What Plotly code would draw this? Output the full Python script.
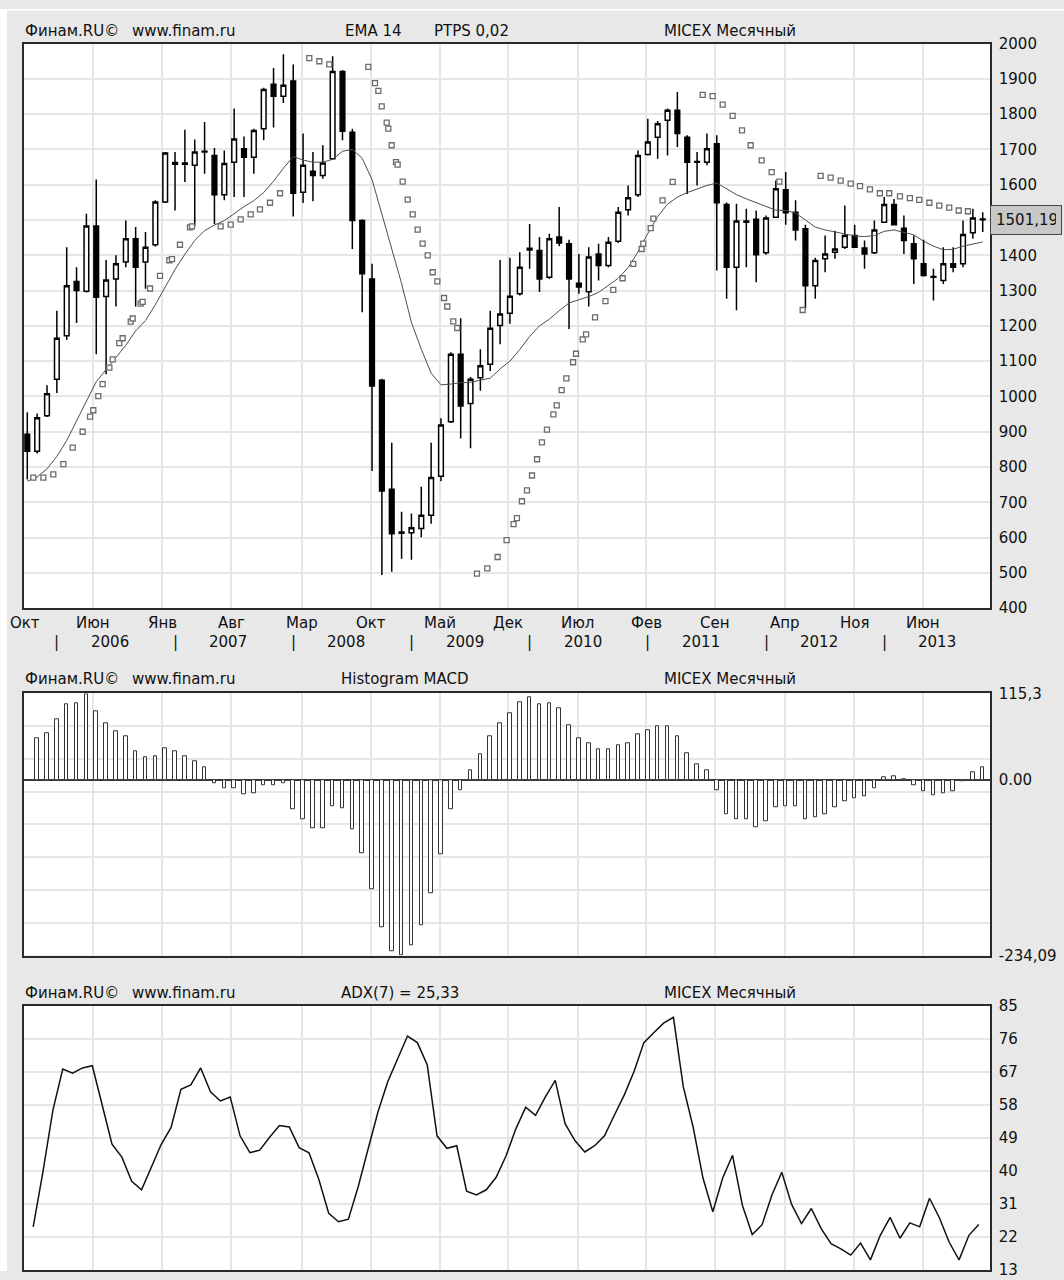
import plotly.graph_objects as go

W, H = 1064, 1280
FONT = "DejaVu Sans"
TXT = "#111111"
GRID = "#e6e6e6"
BORDER = "#2a2a2a"
BG = "#e8e8e8"

# ---------------- data (monthly MICEX, Oct 2005 .. Nov 2013) ----------------
open_ = [893, 845, 945, 1049, 1172, 1326, 1298, 1483, 1283, 1333,
         1381, 1447, 1381, 1430, 1551, 1663, 1658, 1655, 1693, 1683,
         1572, 1664, 1702, 1678, 1759, 1885, 1851, 1894, 1579, 1638,
         1626, 1674, 1921, 1749, 1499, 1333, 1046, 737, 616, 614,
         626, 663, 774, 928, 1120, 980, 1053, 1091, 1201, 1236,
         1291, 1415, 1414, 1338, 1452, 1433, 1321, 1297, 1404, 1371,
         1440, 1529, 1572, 1686, 1735, 1783, 1811, 1735, 1664, 1664,
         1716, 1544, 1366, 1494, 1502, 1407, 1508, 1586, 1522, 1475,
         1314, 1390, 1409, 1423, 1456, 1421, 1407, 1494, 1544, 1477,
         1433, 1376, 1340, 1329, 1376, 1376, 1464, 1503]
high_ = [955, 952, 1032, 1243, 1423, 1366, 1518, 1615, 1387, 1400,
         1499, 1480, 1466, 1556, 1693, 1693, 1756, 1728, 1778, 1704,
         1697, 1816, 1737, 1759, 1875, 1931, 1970, 1941, 1745, 1693,
         1712, 1964, 1925, 1759, 1502, 1376, 1050, 869, 673, 668,
         744, 869, 938, 1125, 1222, 1055, 1134, 1243, 1387, 1393,
         1409, 1489, 1452, 1461, 1537, 1444, 1404, 1423, 1433, 1452,
         1537, 1598, 1697, 1787, 1781, 1816, 1863, 1740, 1693, 1745,
         1740, 1550, 1546, 1532, 1527, 1513, 1612, 1636, 1556, 1487,
         1393, 1456, 1470, 1541, 1487, 1442, 1499, 1565, 1560, 1513,
         1456, 1444, 1362, 1423, 1423, 1499, 1532, 1522]
low_ = [765, 838, 942, 1010, 1160, 1208, 1295, 1120, 1063, 1255,
        1366, 1255, 1305, 1425, 1548, 1527, 1608, 1483, 1631, 1489,
        1556, 1565, 1565, 1631, 1726, 1762, 1832, 1510, 1548, 1553,
        1617, 1671, 1726, 1418, 1239, 789, 494, 503, 540, 537,
        601, 639, 760, 925, 881, 853, 1016, 1072, 1148, 1206,
        1286, 1362, 1296, 1333, 1426, 1191, 1291, 1255, 1329, 1366,
        1435, 1513, 1565, 1683, 1674, 1683, 1707, 1574, 1598, 1655,
        1357, 1277, 1244, 1366, 1324, 1402, 1506, 1487, 1442, 1248,
        1277, 1352, 1390, 1418, 1421, 1362, 1404, 1492, 1485, 1404,
        1319, 1340, 1272, 1319, 1352, 1366, 1447, 1466]
close_ = [845, 940, 1008, 1165, 1314, 1300, 1483, 1281, 1330, 1376,
          1447, 1366, 1423, 1551, 1690, 1658, 1662, 1693, 1695, 1572,
          1660, 1730, 1678, 1754, 1870, 1851, 1882, 1576, 1655, 1626,
          1662, 1921, 1752, 1499, 1348, 1030, 732, 611, 612, 628,
          663, 770, 919, 1120, 973, 1049, 1087, 1193, 1234, 1284,
          1366, 1420, 1333, 1447, 1435, 1333, 1310, 1395, 1371, 1437,
          1522, 1563, 1683, 1721, 1773, 1811, 1745, 1664, 1666, 1702,
          1549, 1366, 1497, 1497, 1402, 1506, 1589, 1521, 1472, 1314,
          1385, 1404, 1418, 1456, 1423, 1404, 1472, 1544, 1487, 1442,
          1390, 1343, 1338, 1376, 1366, 1459, 1506, 1501.19]
ema14 = [760, 772, 795, 830, 875, 930, 985, 1042, 1076, 1110,
         1145, 1186, 1215, 1260, 1310, 1360, 1403, 1442, 1470, 1486,
         1498, 1518, 1538, 1555, 1578, 1610, 1647, 1680, 1670, 1664,
         1664, 1672, 1695, 1700, 1675, 1615, 1518, 1420, 1320, 1210,
         1134, 1066, 1033, 1035, 1039, 1040, 1045, 1052, 1078, 1100,
         1133, 1170, 1200, 1219, 1243, 1265, 1274, 1283, 1295, 1315,
         1335, 1365, 1410, 1462, 1510, 1545, 1565, 1578, 1588, 1598,
         1605, 1588, 1572, 1560, 1550, 1538, 1528, 1527, 1520, 1500,
         1480, 1472, 1467, 1462, 1455, 1453, 1456, 1468, 1472, 1465,
         1458, 1440, 1426, 1416, 1417, 1426, 1432, 1438]
# Parabolic SAR dots as drawn (position in bar units, value)
psar_x = [0.61, 1.63, 2.64, 3.66, 4.61, 5.62, 6.37, 6.7, 7.21, 7.65, 8.33, 8.67, 9.34, 9.68,
          10.5, 10.7, 11.51, 11.71, 12.46, 13.47, 14.42, 14.69, 15.5, 16.52, 16.72,
          19.63, 20.65, 21.66, 22.68, 23.62, 24.64, 25.66,
          28.63, 29.65, 30.66,
          34.62, 35.3, 35.64, 35.98, 36.49, 36.65, 36.99, 37.43, 37.6, 38.11, 38.62, 39.13,
          39.63, 40.14, 40.65, 41.16, 41.63, 42.31, 42.64, 43.25, 43.65,
          45.65, 46.7, 47.75, 48.66, 49.37, 49.71, 50.22, 50.73, 51.24, 51.75, 52.25, 52.76,
          53.41, 53.75, 54.25, 54.73, 55.41, 55.71, 56.39, 56.73, 57.64, 58.7, 59.49, 60.44,
          61.52, 62.37, 62.54, 63.29, 63.56, 64.5, 65.52,
          68.57, 69.58, 70.6, 71.61, 72.56, 73.44, 74.56, 75.57, 76.35,
          78.72,
          80.55, 81.56, 82.58, 83.59, 84.54, 85.55, 86.56, 87.51, 88.6, 89.61, 90.56, 91.58,
          92.59, 93.6, 94.56, 95.5]
psar_y = [770, 770, 779, 808, 855, 900, 943, 961, 1001, 1035, 1082, 1105, 1151, 1165,
          1212, 1221, 1263, 1268, 1306, 1342, 1386, 1389, 1430, 1479, 1482,
          1482, 1487, 1502, 1516, 1530, 1549, 1576,
          1959, 1950, 1941,
          1934, 1888, 1866, 1822, 1776, 1759, 1712, 1664, 1657, 1609, 1558, 1516,
          1473, 1433, 1400, 1352, 1326, 1279, 1255, 1213, 1194,
          498, 513, 545, 593, 638, 655, 703, 734, 776, 822, 870, 906,
          949, 975, 1018, 1051, 1097, 1121, 1162, 1176, 1224, 1270, 1302, 1335,
          1376, 1418, 1433, 1477, 1504, 1556, 1608,
          1855, 1851, 1827, 1795, 1754, 1712, 1669, 1636, 1609,
          1245,
          1625, 1620, 1612, 1603, 1596, 1587, 1576, 1576, 1567, 1562, 1557, 1549,
          1541, 1535, 1527, 1525]
macd_hist = [None, 55.5, 62.6, 80.1, 100.2, 102.5, 114.1, 91.3, 75.6, 64.9,
             58.2, 38.5, 29.5, 31.8, 42.5, 38.5, 31.3, 25.1, 16.1, -4.5,
             -11.6, -11.6, -19.7, -17.9, -7.2, -7.2, -4.5, -39.4, -52.8, -64.0,
             -64.0, -35.8, -38.0, -65.3, -97.5, -145.9, -196.0, -228.2, -234.09, -220.6,
             -193.7, -151.2, -98.9, -39.4, -13.4, 12.1, 34.5, 58.2, 75.6, 89.0,
             102.9, 110.3, 100.0, 102.2, 95.5, 73.2, 55.4, 49.1, 40.2, 40.2,
             45.5, 49.1, 60.3, 66.5, 71.4, 71.4, 58.0, 35.7, 20.5, 12.1,
             -13.4, -46.0, -52.7, -52.7, -62.9, -54.9, -37.1, -35.7, -35.7, -52.7,
             -50.4, -46.0, -37.1, -28.1, -24.6, -22.3, -11.2, 3.1, 4.5, 0.3,
             -6.7, -15.6, -20.1, -17.9, -15.6, -1.8, 9.8, 16.1]
adx7 = [None, 24.7, 39.9, 56.5, 67.7, 66.6, 68.0, 68.6, 58.3, 47.2,
        43.7, 37.1, 34.8, 40.8, 47.2, 51.8, 62.2, 63.4, 68.0, 61.5,
        59.0, 60.1, 49.5, 44.9, 45.6, 49.1, 52.3, 51.9, 46.3, 44.9,
        37.6, 28.4, 26.1, 26.8, 35.7, 45.9, 56.0, 64.3, 70.7, 76.7,
        74.9, 68.9, 49.5, 46.1, 46.8, 34.4, 33.4, 34.8, 38.2, 44.0,
        51.4, 57.3, 55.1, 60.1, 64.6, 52.8, 48.2, 45.1, 46.8, 49.5,
        55.1, 60.6, 67.0, 74.9, 77.6, 80.2, 81.8, 62.9, 51.9, 38.0,
        28.8, 38.0, 44.2, 30.6, 22.6, 25.3, 33.4, 39.6, 30.8, 25.6,
        29.7, 24.2, 20.1, 18.7, 17.0, 20.3, 15.7, 22.4, 27.3, 21.6,
        25.8, 24.7, 32.5, 27.2, 20.5, 15.7, 22.4, 25.33]

grid_pos = [6.65, 13.68, 20.7, 27.85, 34.87, 41.85, 48.85, 55.86, 62.83, 69.83, 76.95, 83.95, 90.9]
grid_labels = ["Июн", "Янв", "Авг", "Мар", "Окт", "Май", "Дек", "Июл", "Фев", "Сен", "Апр", "Ноя", "Июн"]
first_label = "Окт"
year_pos = [3, 15, 27, 39, 51, 63, 75, 87]
year_labels = ["2006", "2007", "2008", "2009", "2010", "2011", "2012", "2013"]
price_ticks = list(range(400, 2001, 100))
macd_min, macd_max = -234.09, 115.3
macd_label_vals = [115.3, 0.0, -234.09]
macd_label_text = ["115,3", "0.00", "-234,09"]
adx_ticks = [13, 22, 31, 40, 49, 58, 67, 76, 85]

idx = list(range(len(close_)))
ADX_SHIFT = -0.4

# the photographed page maps figure rows as  y_photo = 0.985*y_fig + 8.4  (measured);
# place everything by its target position in the photo.
V_SCALE, V_OFF = 0.985, 8.4


def px(xp):
    return xp / W


def py(yp):
    return 1 - ((yp - V_OFF) / V_SCALE) / H


fig = go.Figure()
fig.add_trace(go.Candlestick(
    x=idx, open=open_, high=high_, low=low_, close=close_,
    increasing=dict(line=dict(color="#000000", width=1.5), fillcolor="#ffffff"),
    decreasing=dict(line=dict(color="#000000", width=1.5), fillcolor="#000000"),
    whiskerwidth=0, xaxis="x", yaxis="y", showlegend=False, hoverinfo="skip"))
fig.add_trace(go.Scatter(x=idx, y=ema14, mode="lines", line=dict(color="#4d4d4d", width=1),
                         xaxis="x", yaxis="y", showlegend=False, hoverinfo="skip"))
fig.add_trace(go.Scatter(x=psar_x, y=psar_y, mode="markers",
                         marker=dict(symbol="square", size=5, color="#ffffff",
                                     line=dict(color="#6b6b6b", width=1.3)),
                         xaxis="x", yaxis="y", showlegend=False, hoverinfo="skip"))
fig.add_trace(go.Bar(x=idx, y=macd_hist, width=0.36,
                     marker=dict(color="#ffffff", line=dict(color="#333333", width=1)),
                     xaxis="x2", yaxis="y2", showlegend=False, hoverinfo="skip"))
fig.add_trace(go.Scatter(x=[i + ADX_SHIFT for i in idx], y=adx7, mode="lines",
                         line=dict(color="#111111", width=1.5),
                         xaxis="x3", yaxis="y3", showlegend=False, hoverinfo="skip"))

xr = [-0.335, 97.74]
xdom = [px(24), px(990)]
xcommon = dict(range=xr, domain=xdom, showticklabels=False, tickvals=grid_pos, ticks="",
               showgrid=True, gridcolor=GRID, gridwidth=1.5, zeroline=False,
               showline=True, linecolor=BORDER, linewidth=1.5, mirror=True, fixedrange=True)
ycommon = dict(side="right", showgrid=True, gridcolor=GRID, gridwidth=1.5, ticks="",
               showline=True, linecolor=BORDER, linewidth=1.5, mirror=True,
               ticklabelstandoff=4, tickfont=dict(family=FONT, size=15, color=TXT),
               fixedrange=True)

macd_grid = [macd_min + k * (macd_max - macd_min) / 8 for k in range(1, 8)]
last = close_[-1]
price_text = ["" if abs(v - last) < 40 else str(v) for v in price_ticks]

fig.update_layout(
    width=W, height=H, margin=dict(l=0, r=0, t=0, b=0),
    paper_bgcolor=BG, plot_bgcolor="#ffffff",
    boxgap=0.32, bargap=0, showlegend=False,
    font=dict(family=FONT, size=15, color=TXT),
    xaxis=dict(xcommon, anchor="y", rangeslider=dict(visible=False)),
    xaxis2=dict(xcommon, anchor="y2"),
    xaxis3=dict(xcommon, anchor="y3"),
    yaxis=dict(ycommon, anchor="x", domain=[py(607), py(43)], range=[400, 2000],
               tickvals=price_ticks, ticktext=price_text, zeroline=False),
    yaxis2=dict(ycommon, anchor="x2", domain=[py(954), py(692)], range=[macd_min, macd_max],
                tickvals=macd_label_vals + macd_grid,
                ticktext=macd_label_text + [""] * len(macd_grid),
                zeroline=True, zerolinecolor="#3a3a3a", zerolinewidth=1.5),
    yaxis3=dict(ycommon, anchor="x3", domain=[py(1268), py(1004)], range=[13, 85],
                tickvals=adx_ticks, ticktext=[str(v) for v in adx_ticks], zeroline=False),
)

# white page edges (left and top strips outside the gray panel)
fig.add_shape(type="rect", xref="paper", yref="paper", x0=0, x1=px(7), y0=0, y1=1,
              fillcolor="#ffffff", line=dict(width=0), layer="below")
fig.add_shape(type="rect", xref="paper", yref="paper", x0=0, x1=1, y0=py(10), y1=1,
              fillcolor="#ffffff", line=dict(width=0), layer="below")

ann = []


def text(x, y, s, xref="paper", anchor="left", size=15):
    ann.append(dict(x=x, y=y, xref=xref, yref="paper", text=s, showarrow=False,
                    xanchor=anchor, yanchor="middle",
                    font=dict(family=FONT, size=size, color=TXT)))


adx_title = "ADX(7) = " + f"{adx7[-1]:.2f}".replace(".", ",")
for yc, mid in [(30, None), (678, "Histogram MACD"), (991, adx_title)]:
    text(px(23), py(yc), "Финам.RU©")
    text(px(130), py(yc), "www.finam.ru")
    text(px(662), py(yc), "MICEX Месячный")
    if mid:
        text(px(339), py(yc), mid)
text(px(343), py(30), "EMA 14")
text(px(432), py(30), "PTPS 0,02")

# month / year labels under the price panel
text(-0.23, py(622), first_label, xref="x", anchor="center")
for p, lab in zip(grid_pos, grid_labels):
    text(p, py(622), lab, xref="x", anchor="center")
for p, lab in zip(year_pos, year_labels):
    text(p, py(641), "|", xref="x", anchor="center")
    text(p + 5.4, py(641), lab, xref="x", anchor="center")

# last price box
ann.append(dict(x=px(990), y=last, xref="paper", yref="y", text=f"{last:.2f}".replace(".", ","),
                showarrow=False, xanchor="left", yanchor="middle", align="left",
                bgcolor="#c8c8c8", bordercolor="#444444", borderwidth=1, borderpad=5,
                width=60, font=dict(family=FONT, size=15, color=TXT)))

fig.update_layout(annotations=ann)

pin = ("document.documentElement.style.margin='0';document.body.style.margin='0';"
       "document.body.style.overflow='hidden';"
       "document.documentElement.style.background='#e8e8e8';"
       "document.body.style.background='transparent';"
       "var gd=document.getElementById('{plot_id}');"
       "gd.style.position='fixed';gd.style.left='0px';gd.style.top='0px';")
fig.write_html("out.html", config={"displayModeBar": False}, post_script=pin)
